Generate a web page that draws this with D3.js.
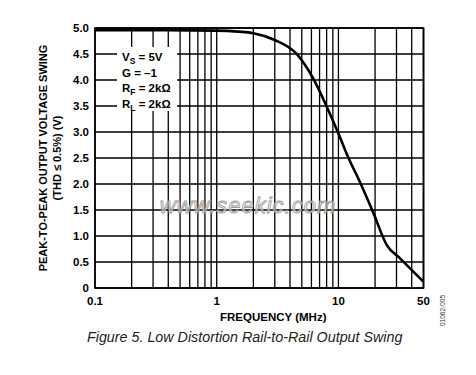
<!DOCTYPE html>
<html>
<head>
<meta charset="utf-8">
<script src="https://cdn.jsdelivr.net/npm/d3@7"></script>
<style>
  body { margin: 0; background: #fff; }
  text { font-family: "Liberation Sans", Arial, sans-serif; }
</style>
</head>
<body>
<svg width="476" height="375"></svg>
<script>
// curve: frequency (MHz) -> output swing (V p-p)
const freqs = [0.1, 0.3, 1, 1.5, 2, 3, 4.5, 6.2, 8, 10, 12.1, 14.6, 19.4, 24.9, 32.1, 50];
const swing = [4.96, 4.96, 4.95, 4.93, 4.90, 4.77, 4.51, 4.03, 3.49, 2.97, 2.5, 2.1, 1.44, 0.83, 0.57, 0.12];
const xTickLabels = [0.1, 1, 10, 50];
const yTicks = [0, 0.5, 1, 1.5, 2, 2.5, 3, 3.5, 4, 4.5, 5];
const legendLines = [["V", "S", " = 5V"], ["G = \u20131", "", ""], ["R", "F", " = 2k\u03a9"], ["R", "L", " = 2k\u03a9"]];

const svg = d3.select("svg");
const margin = { top: 28, left: 95, bottom: 87, right: 52.5 };
const innerWidth = 476 - margin.left - margin.right;
const innerHeight = 375 - margin.top - margin.bottom;

const xScale = d3.scaleLog().domain([0.1, 50]).range([0, innerWidth]);
const yScale = d3.scaleLinear().domain([0, 5]).range([innerHeight, 0]);

const g = svg.append("g").attr("transform", `translate(${margin.left},${margin.top})`);

// log grid: every 1..9 step in each decade, up to 50
const vGrid = [];
[0.1, 1, 10].forEach((dec) => {
  for (let k = 1; k <= 9; k++) {
    const v = dec * k;
    if (v <= 50) vGrid.push(v);
  }
});
vGrid.push(50);

g.selectAll("line.vgrid")
  .data(vGrid)
  .enter()
  .append("line")
  .attr("class", "vgrid")
  .attr("x1", (d) => xScale(d))
  .attr("x2", (d) => xScale(d))
  .attr("y1", 0)
  .attr("y2", innerHeight)
  .attr("stroke", "#000")
  .attr("stroke-width", 1.3);

g.selectAll("line.hgrid")
  .data(yTicks)
  .enter()
  .append("line")
  .attr("class", "hgrid")
  .attr("x1", 0)
  .attr("x2", innerWidth)
  .attr("y1", (d) => yScale(d))
  .attr("y2", (d) => yScale(d))
  .attr("stroke", "#000")
  .attr("stroke-width", 1.3);

g.append("rect")
  .attr("width", innerWidth)
  .attr("height", innerHeight)
  .attr("fill", "none")
  .attr("stroke", "#000")
  .attr("stroke-width", 1.6);

// legend block sits on a white patch over the grid
const legend = g.append("g").attr("transform", "translate(22,19)");
legend.append("rect")
  .attr("width", 60)
  .attr("height", 64)
  .attr("fill", "#fff");
legendLines.forEach((l, i) => {
  const t = legend.append("text")
    .attr("x", 5)
    .attr("y", 14 + i * 15.5)
    .attr("font-size", 11.5)
    .attr("font-weight", "bold");
  t.append("tspan").text(l[0]);
  if (l[1]) {
    t.append("tspan").attr("dy", 3).attr("font-size", 8.5).text(l[1]);
    t.append("tspan").attr("dy", -3).text(l[2]);
  }
});

// data curve
const line = d3.line()
  .x((d, i) => xScale(freqs[i]))
  .y((d) => yScale(d))
  .curve(d3.curveMonotoneX);

g.append("path")
  .datum(swing)
  .attr("d", line)
  .attr("fill", "none")
  .attr("stroke", "#000")
  .attr("stroke-width", 2.6);

// tick labels
g.selectAll("text.ylab")
  .data(yTicks)
  .enter()
  .append("text")
  .attr("class", "ylab")
  .attr("x", -6)
  .attr("y", (d) => yScale(d) + 4)
  .attr("text-anchor", "end")
  .attr("font-size", 11.5)
  .attr("font-weight", "bold")
  .text((d) => (d === 0 ? "0" : d.toFixed(1)));

g.selectAll("text.xlab")
  .data(xTickLabels)
  .enter()
  .append("text")
  .attr("class", "xlab")
  .attr("x", (d) => xScale(d))
  .attr("y", innerHeight + 17)
  .attr("text-anchor", "middle")
  .attr("font-size", 11.5)
  .attr("font-weight", "bold")
  .text((d) => d);

// axis titles
g.append("text")
  .attr("x", innerWidth / 2 + 14)
  .attr("y", innerHeight + 33)
  .attr("text-anchor", "middle")
  .attr("font-size", 11.5)
  .attr("font-weight", "bold")
  .text("FREQUENCY (MHz)");

const yTitle = g.append("g")
  .attr("transform", `translate(-48,${innerHeight / 2}) rotate(-90)`);
yTitle.append("text")
  .attr("text-anchor", "middle")
  .attr("font-size", 11)
  .attr("font-weight", "bold")
  .text("PEAK-TO-PEAK OUTPUT VOLTAGE SWING");
yTitle.append("text")
  .attr("y", 14)
  .attr("text-anchor", "middle")
  .attr("font-size", 11)
  .attr("font-weight", "bold")
  .text("(THD \u2264 0.5%) (V)");

// watermark
svg.append("text")
  .attr("x", 248)
  .attr("y", 213)
  .attr("text-anchor", "middle")
  .attr("font-size", 22)
  .attr("font-style", "italic")
  .attr("letter-spacing", 1)
  .attr("fill", "#eee")
  .attr("fill-opacity", 0.6)
  .attr("stroke", "#999")
  .attr("stroke-width", 0.8)
  .text("www.seekic.com");

// figure id and caption
svg.append("text")
  .attr("transform", "translate(445,326) rotate(-90)")
  .attr("font-size", 6.5)
  .attr("fill", "#333")
  .text("01062-005");

svg.append("text")
  .attr("x", 87)
  .attr("y", 342)
  .attr("font-family", "'Open Sans', sans-serif")
  .attr("font-size", 14.3)
  .attr("font-style", "italic")
  .attr("fill", "#222")
  .text("Figure 5. Low Distortion Rail-to-Rail Output Swing");
</script>
</body>
</html>
